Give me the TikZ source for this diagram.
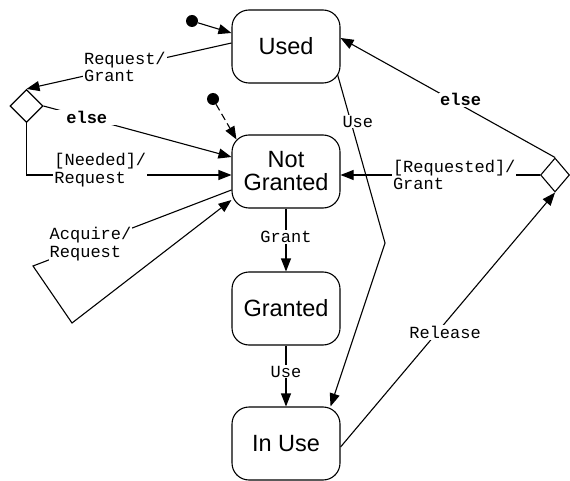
\documentclass[tikz,border=0pt]{standalone}
\usepackage{fontspec}
\setmainfont{Liberation Sans}
\newfontfamily\labelfont{Liberation Mono}
\usetikzlibrary{arrows.meta,shapes.geometric,calc}

\begin{document}
\begin{tikzpicture}[x=1pt,y=-1pt,
  state/.style={draw, line width=1.1pt, rounded corners=17pt, minimum width=108pt, minimum height=73pt, align=center, font=\fontsize{23.5}{23}\selectfont, inner sep=0pt},
  choice/.style={draw, diamond, line width=1.1pt, minimum width=33pt, minimum height=33pt, inner sep=0pt},
  initdot/.style={circle, fill=black, minimum size=12pt, inner sep=0pt},
  conn/.style={line width=1.1pt, -{Triangle[length=13pt,width=10pt]}},
  lbl/.style={fill=white, inner sep=1pt, align=left, font=\labelfont\fontsize{17}{17.5}\selectfont},
  blbl/.style={lbl, font=\labelfont\bfseries\fontsize{17}{17.5}\selectfont},
]
\useasboundingbox (0,0) rectangle (570,481);

\node[state] (used) at (286,46.5) {Used};
\node[state] (ng) at (286,171.5) {Not\\Granted};
\node[state] (granted) at (286,308.5) {Granted};
\node[state] (inuse) at (286,443.5) {In Use};

\node[choice] (dl) at (26.5,106) {};
\node[choice, minimum width=29pt, minimum height=34pt] (dr) at (555,175) {};

\node[initdot] (i1) at (192,21) {};
\node[initdot] (i2) at (213,99) {};

\coordinate (loopA) at (33,266);
\coordinate (loopB) at (72,323);
\coordinate (useBend) at (385,243);

\draw[conn] (i1) -- (used.west |- 0,33);
\draw[conn, dash pattern=on 7pt off 4pt] (i2) -- ($(ng.north west)+(5,5)$);

\draw[conn] (used.west |- 0,43) -- node[lbl, pos=0.52]{Request/\\Grant} (dl.north);
\draw[conn] (dl.east) -- node[blbl, pos=0.23, inner xsep=10pt]{else} (ng.west |- 0,157);
\draw[conn] (dl.south) |- node[lbl, pos=0.68, yshift=5pt]{[Needed]/\\Request} (ng.west |- 0,175);
\draw[conn] (ng.west |- 0,190) -- node[lbl, pos=0.71]{Acquire/\\Request} (loopA) -- (loopB) -- (ng.west |- 0,200);

\draw[conn] (ng.south) -- node[lbl, pos=0.45]{Grant} (granted.north);
\draw[conn] (granted.south) -- node[lbl, pos=0.43]{Use} (inuse.north);
\draw[conn] ($(used.south east)+(-3,-9)$) -- node[lbl, pos=0.28, xshift=7pt]{Use} (useBend) -- ($(inuse.north east)+(-10,0)$);

\draw[conn] (dr.north) -- node[blbl, pos=0.44, yshift=5pt]{else} (used.east |- 0,38);
\draw[conn] (dr.west) -- node[lbl, pos=0.43]{[Requested]/\\Grant} (ng.east |- dr.west);
\draw[conn] (inuse.east |- 0,447) -- node[lbl, pos=0.45, xshift=8pt]{Release} (dr.south);
\end{tikzpicture}
\end{document}
